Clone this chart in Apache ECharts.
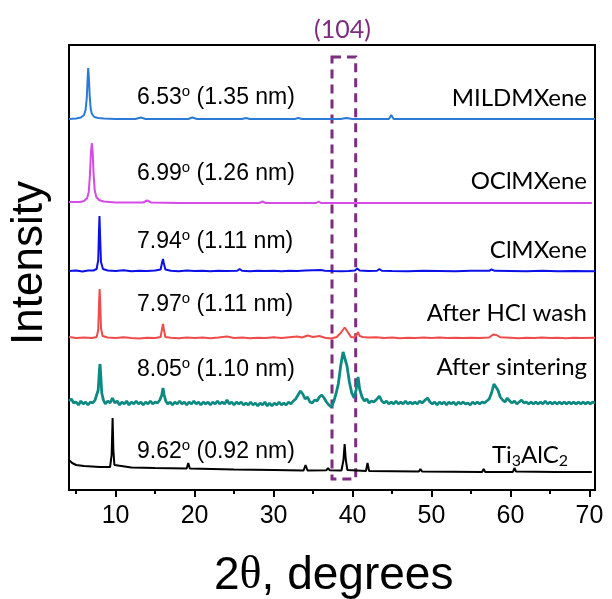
<!DOCTYPE html>
<html>
<head>
<meta charset="utf-8">
<script src="https://cdn.jsdelivr.net/npm/echarts@6/dist/echarts.min.js"></script>
<style>
  html, body { margin: 0; padding: 0; background: #fff; }
  #chart { width: 612px; height: 599px; }
</style>
</head>
<body>
<div id="chart"></div>
<script>
// 2theta range and tick labels
const xMin = 4.1
const xMax = 70.7
const majorTicks = [10, 20, 30, 40, 50, 60, 70]
const minorTicks = [5, 15, 25, 35, 45, 55, 65]

// patterns, offset intensity (a.u.)
const mildData = [
  [4.1,371],[5.0,371.5],[5.6,372.5],[6.0,375],[6.2,380],[6.35,392],[6.45,410],[6.53,422],[6.62,412],[6.72,394],
  [6.85,381],[7.0,376],[7.3,373],[7.8,372],[8.5,371.5],[10,371],[12.5,371],[13.2,372.5],[13.8,371],[16,371],
  [19.2,371],[19.7,372.5],[20.3,371],[23,371],[26.0,371],[26.5,372],[27.0,371],[30,371],[32.7,371],[33.1,372],
  [33.6,371],[36,371],[38.5,371],[39.2,372],[39.6,371.5],[40,371],[44.6,371],[44.9,375],[45.2,371],[50,371],
  [55,371],[60,371],[65,371],[70.7,371]
]
const oclData = [
  [4.1,288],[5.5,288],[6.0,289],[6.4,292],[6.6,298],[6.75,315],[6.88,338],[6.99,347],[7.1,338],[7.2,318],
  [7.35,300],[7.55,293],[7.9,290],[8.5,288.5],[10,287.5],[13.5,287.5],[14.0,289.5],[14.5,287.5],[18,287],[24,287],
  [28.2,287],[28.6,288.5],[29,287],[35.4,287],[35.7,288.5],[36.0,287],[40,287],[50,287],[60,287],[70.3,287]
]
const clData = [
  [4.1,219],[5,219.5],[5.8,218.5],[6.5,219.5],[7.2,219.5],[7.6,221],[7.8,230],[7.9,260],[7.96,274],[8.02,258],
  [8.15,228],[8.4,221],[9,219.5],[10,219],[11,219.8],[12,218.7],[13,219.3],[14,219],[15,219.5],[15.7,220.5],
  [15.9,228],[16.0,231],[16.1,227],[16.3,220.5],[17,219.3],[18,218.8],[19,219.5],[20,219],[21,219.3],[22,218.8],
  [23,219.2],[24,219],[25.4,219.2],[25.7,221],[26,219.2],[27,218.8],[28,219.3],[29,219],[30,219.2],[31,218.8],
  [32,219.3],[33,219],[34,219.4],[35,219.8],[36,220],[36.5,219.3],[37.5,219],[38.5,218.8],[39.5,219],[40.3,219.5],
  [40.6,221.5],[40.9,219.5],[42,219],[43.1,219.3],[43.4,221],[43.7,219.3],[45,219],[47,218.8],[49,219.2],[51,219],
  [53,218.8],[55,219.2],[57.3,219.2],[57.6,220.5],[58,219.2],[60,219],[62,218.7],[64,219.2],[66,218.8],[68,219],
  [70.7,218.7]
]
const hclData = [
  [4.1,153],[5,152],[6,152.5],[7,152],[7.6,153],[7.8,160],[7.92,190],[7.98,201],[8.05,188],[8.15,162],
  [8.35,154],[9,152.5],[10,152],[11,152.8],[12,152],[13,151.6],[14,152.3],[15,152],[15.7,153],[15.9,162],
  [16.0,166],[16.1,161],[16.3,153],[17,152.2],[18,151.8],[19,152.5],[20,152],[21,152.6],[22,151.8],[23,152.4],
  [24.1,153.5],[25,152],[26,152.5],[27,151.8],[28,152.3],[29,152],[30,152.7],[31,152],[32,152.8],[33,153.5],
  [33.6,152.5],[34.3,154.5],[35,153],[35.8,154],[36.5,152.3],[37.3,151.5],[38.0,153],[38.5,157],[39.0,162.5],[39.4,158],
  [39.8,153],[40.2,152.5],[40.5,155],[40.7,158],[40.9,154],[41.3,153],[42,152.5],[43,152.8],[44,152],[45,152.5],
  [46,151.8],[47,152.3],[48,152],[49,152.5],[50,152],[51,152.6],[52,152],[53,152.3],[54,152],[55,152.3],
  [56,152],[57.3,152.5],[57.8,155.5],[58.2,155],[58.7,152.8],[60,152.3],[61,151.8],[62,152.3],[63,152],[64,152.5],
  [65,152],[66,152.3],[67,151.8],[68,152.2],[69,152],[70.7,152.2]
]
const sinterData = [
  [4.1,89],[4.4,91],[4.7,87],[5.0,88],[5.3,85],[5.6,89],[5.9,86],[6.2,88],[6.5,85],[6.8,88],
  [7.1,87],[7.4,90],[7.6,92],[7.8,100],[7.95,120],[8.03,126],[8.12,115],[8.25,97],[8.45,90],[8.7,86],
  [9.0,89],[9.3,87],[9.6,92],[9.9,87],[10.2,89],[10.5,85],[10.8,88],[11.1,86],[11.4,89],[11.7,85],
  [12.0,88],[12.3,86],[12.6,89],[12.9,86],[13.2,88],[13.5,85],[13.8,88],[14.1,86],[14.4,89],[14.7,86],
  [15.0,88],[15.3,87],[15.6,90],[15.85,95],[16.0,102],[16.15,95],[16.35,89],[16.6,86],[16.9,88],[17.2,85],
  [17.5,88],[17.8,86],[18.1,89],[18.4,86],[18.7,88],[19.0,85],[19.3,88],[19.6,86],[19.9,89],[20.2,86],
  [20.5,88],[20.8,85],[21.1,88],[21.4,86],[21.7,88],[22.0,85],[22.3,88],[22.6,86],[22.9,89],[23.2,86],
  [23.5,88],[23.8,86],[24.1,90],[24.4,86],[24.7,88],[25.0,85],[25.3,88],[25.6,86],[25.9,88],[26.2,85],
  [26.5,87],[26.8,85],[27.1,88],[27.4,85],[27.7,87],[28.0,84],[28.3,87],[28.6,85],[28.9,88],[29.2,84],
  [29.5,87],[29.8,84],[30.1,87],[30.4,85],[30.7,88],[31.0,85],[31.3,87],[31.6,85],[31.9,88],[32.2,86],
  [32.5,89],[32.8,91],[33.1,95],[33.4,99],[33.7,96],[34.0,91],[34.3,93],[34.6,88],[34.9,87],[35.2,90],
  [35.5,89],[35.8,93],[36.1,95],[36.4,92],[36.7,88],[37.0,85],[37.3,83],[37.6,88],[37.9,96],[38.2,106],
  [38.5,124],[38.8,138],[39.05,136],[39.3,124],[39.6,108],[39.9,97],[40.2,92],[40.45,100],[40.7,113],[40.9,101],
  [41.2,93],[41.5,89],[41.8,91],[42.1,87],[42.4,89],[42.7,88],[43.1,91],[43.4,94],[43.7,89],[44.0,87],
  [44.3,89],[44.6,86],[44.9,88],[45.2,86],[45.5,89],[45.8,86],[46.1,88],[46.4,86],[46.7,89],[47.0,86],
  [47.3,88],[47.6,86],[47.9,88],[48.2,86],[48.5,89],[48.8,87],[49.2,90],[49.5,92],[49.8,88],[50.1,86],
  [50.4,88],[50.7,85],[51.0,88],[51.3,86],[51.6,88],[51.9,85],[52.2,88],[52.5,86],[52.8,88],[53.1,85],
  [53.4,88],[53.7,86],[54.0,88],[54.3,86],[54.6,87],[54.9,85],[55.2,88],[55.5,86],[55.8,88],[56.1,86],
  [56.4,88],[56.7,87],[57.0,89],[57.3,91],[57.6,97],[57.9,106],[58.1,107],[58.4,100],[58.7,93],[59.0,90],
  [59.3,88],[59.6,92],[59.9,89],[60.2,87],[60.5,89],[60.8,86],[61.1,88],[61.4,90],[61.7,87],[62.0,88],
  [62.3,86],[62.6,88],[62.9,86],[63.2,88],[63.5,86],[63.8,88],[64.1,86],[64.4,89],[64.7,86],[65.0,88],
  [65.3,86],[65.6,88],[65.9,86],[66.2,88],[66.5,86],[66.8,88],[67.1,86],[67.4,88],[67.7,86],[68.0,88],
  [68.3,86],[68.6,88],[68.9,86],[69.2,88],[69.5,86],[69.8,88],[70.1,86],[70.4,88],[70.7,87]
]
const tiData = [
  [4.1,30],[4.5,27],[5,25],[6,24],[7,23.5],[8,23],[9.3,23],[9.5,35],[9.62,72],[9.72,40],
  [9.85,25],[10,24],[12,22.5],[15,22],[19,21.5],[19.2,27],[19.4,21.5],[25,20.5],[30,20],[33.8,19.5],
  [34.05,25],[34.3,19.5],[36.7,19.8],[36.9,22],[37.1,19.8],[38.6,19.5],[38.85,30],[39.0,46],[39.15,30],[39.35,20],
  [41.7,19],[41.9,27],[42.1,19],[48.4,18.5],[48.6,21],[48.8,18.5],[56.4,18],[56.6,21],[56.8,18],[60.3,18],
  [60.5,22],[60.7,18.5],[65.7,18],[65.9,19.5],[66.1,18],[70.3,18]
]

// (104) box, 2theta limits and intensity limits
const boxX = [37.4, 40.4]
const boxY = [11, 433]

const labels = ['MILDMXene', 'OClMXene', 'ClMXene', 'After HCl wash', 'After sintering', 'Ti3AlC2']
const peaks = ['6.53', '6.99', '7.94', '7.97', '8.05', '9.62']
const spacings = ['1.35', '1.26', '1.11', '1.11', '1.10', '0.92']
const colors = ['#2b7bd6', '#d64be6', '#0a10e6', '#f04b4b', '#0c8a82', '#000000']
const allData = [mildData, oclData, clData, hclData, sinterData, tiData]

const labelY = [100, 183, 252, 315, 369, 457]
const annotY = [98, 174, 242, 305, 370, 452]

const chart = echarts.init(document.getElementById('chart'))

const series = allData.map((d, i) => ({
  type: 'line',
  data: d,
  showSymbol: false,
  silent: true,
  lineStyle: { color: colors[i], width: i === 4 ? 2.8 : 2 },
  z: 2
}))

// dashed box drawn over the lines
series.push({
  type: 'line',
  data: [],
  z: 10,
  markArea: {
    silent: true,
    itemStyle: { color: 'rgba(0,0,0,0)', borderColor: '#7b2d7e', borderWidth: 3, borderType: [9, 6] },
    data: [[{ coord: [boxX[0], boxY[1]] }, { coord: [boxX[1], boxY[0]] }]]
  }
})

const graphics = []
labels.forEach((t, i) => {
  let text = t
  let rich = { n: { fontFamily: 'Lato', fontSize: 24, fill: '#000' } }
  if (t === 'Ti3AlC2') {
    text = '{n|Ti}{sub|3}{n|AlC}{sub|2}'
    rich.sub = { fontFamily: 'Lato', fontSize: 16, verticalAlign: 'bottom', padding: [12, 0, 0, 0] }
  } else {
    text = '{n|' + t + '}'
  }
  graphics.push({
    type: 'text',
    right: t === 'Ti3AlC2' ? 44 : 25,
    top: labelY[i] - 14,
    style: { text: text, rich: rich, fill: '#000' }
  })
  graphics.push({
    type: 'text',
    left: 137,
    top: annotY[i] - 14,
    style: {
      text: '{n|' + peaks[i] + '}{s|o}{n| (' + spacings[i] + ' nm)}',
      rich: {
        n: { fontFamily: 'Liberation Sans', fontSize: 23, fill: '#000', lineHeight: 27 },
        s: { fontFamily: 'Liberation Sans', fontSize: 15, fill: '#000', verticalAlign: 'top', lineHeight: 15 }
      }
    }
  })
})

graphics.push({
  type: 'text',
  left: 314,
  top: 17,
  style: { text: '(104)', font: '25px Lato', fill: '#7b2d7e' }
})
graphics.push({
  type: 'text',
  left: 214,
  top: 553,
  style: {
    text: '{n|2}{g|θ}{n|, degrees}',
    rich: {
      n: { fontFamily: 'Liberation Sans', fontSize: 46, fill: '#000' },
      g: { fontFamily: 'Liberation Serif', fontSize: 46, fill: '#000' }
    }
  }
})
graphics.push({
  type: 'text',
  x: 30,
  y: 263,
  rotation: Math.PI / 2,
  style: { text: 'Intensity', font: '44px Liberation Sans', fill: '#000', align: 'center', verticalAlign: 'middle', textAlign: 'center', textVerticalAlign: 'middle' }
})

chart.setOption({
  animation: false,
  backgroundColor: '#fff',
  grid: { left: 69, right: 17, top: 45, bottom: 109, show: true, borderColor: '#000', borderWidth: 2 },
  xAxis: [
    {
      type: 'value', min: xMin, max: xMax,
      axisLine: { show: true, lineStyle: { color: '#000', width: 2 } },
      axisTick: { show: true, customValues: majorTicks, length: 7, lineStyle: { color: '#000', width: 2 } },
      axisLabel: { customValues: majorTicks, color: '#000', fontSize: 25, fontFamily: 'Liberation Sans', margin: 14 },
      splitLine: { show: false }
    },
    {
      // minor ticks only
      type: 'value', min: xMin, max: xMax, position: 'bottom',
      axisLine: { show: false },
      axisTick: { show: true, customValues: minorTicks, length: 4, lineStyle: { color: '#000', width: 2 } },
      axisLabel: { show: false },
      splitLine: { show: false }
    }
  ],
  yAxis: {
    type: 'value', min: 0, max: 445,
    axisLine: { show: true, lineStyle: { color: '#000', width: 2 } },
    axisTick: { show: false },
    axisLabel: { show: false },
    splitLine: { show: false }
  },
  series: series,
  graphic: graphics
})
</script>
</body>
</html>
